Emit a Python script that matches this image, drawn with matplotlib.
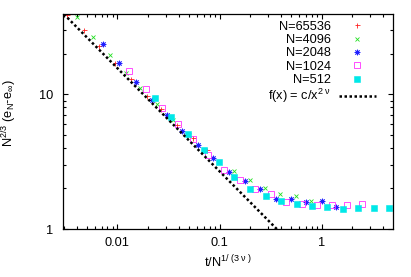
import matplotlib
matplotlib.use("Agg")
import matplotlib.pyplot as plt
import numpy as np
from matplotlib.ticker import FixedLocator, FixedFormatter, LogLocator, NullFormatter

plt.rcParams['font.family'] = ['Liberation Sans', 'DejaVu Sans']
plt.rcParams['mathtext.fontset'] = 'custom'
plt.rcParams['mathtext.rm'] = 'Liberation Sans'
plt.rcParams['mathtext.it'] = 'Liberation Sans'
plt.rcParams['mathtext.sf'] = 'Liberation Sans'

FS = 9.2

# ---- data ----
labels = ["N=65536", "N=4096", "N=2048", "N=1024", "N=512"]

x_65536 = [0.00324, 0.00472, 0.00667, 0.00950, 0.01361, 0.0193, 0.0268, 0.0384, 0.0547, 0.0750]
y_65536 = [38.8, 30.0, 22.8, 17.2, 13.1, 9.71, 7.74, 5.92, 4.71, 3.86]

x_4096 = [0.00401, 0.00582, 0.00849, 0.01208, 0.01667, 0.0246, 0.0353, 0.0498,
          0.0705, 0.0989, 0.1387, 0.199, 0.279, 0.391, 0.557, 0.780]
y_4096 = [37.3, 26.8, 19.6, 14.3, 11.2, 8.47, 6.45, 4.99,
          3.86, 3.16, 2.70, 2.31, 2.02, 1.83, 1.76, 1.61]

x_2048 = [0.00724, 0.01046, 0.01524, 0.0217, 0.0308, 0.0432, 0.0621, 0.0868,
          0.124, 0.177, 0.249, 0.355, 0.498, 0.702, 1.000, 1.39]
y_2048 = [23.5, 17.2, 12.3, 9.12, 7.06, 5.37, 4.24, 3.35,
          2.66, 2.28, 1.97, 1.67, 1.68, 1.58, 1.62, 1.46]

x_1024 = [0.01301, 0.01897, 0.02754, 0.0390, 0.0551, 0.0776, 0.1107, 0.160,
          0.222, 0.317, 0.448, 0.637, 0.893, 1.270, 1.780, 2.50]
y_1024 = [14.9, 10.9, 7.98, 6.02, 4.66, 3.54, 2.74, 2.33,
          1.99, 1.81, 1.58, 1.53, 1.51, 1.52, 1.50, 1.53]

x_512 = [0.0234, 0.0337, 0.0492, 0.0705, 0.0990, 0.140, 0.199, 0.284,
         0.400, 0.569, 0.804, 1.13, 1.60, 2.27, 3.22, 4.55]
y_512 = [9.34, 6.82, 5.07, 3.89, 3.13, 2.42, 1.98, 1.77,
         1.62, 1.53, 1.48, 1.45, 1.41, 1.42, 1.42, 1.42]

# fit f(x) = c / x^(2 nu)
c_fit = 0.46
nu_fit = 0.383

xticks = [0.01, 0.1, 1]
xticklabels = ["0.01", "0.1", "1"]
yticks = [1, 10]
yticklabels = ["1", "10"]

# ---- figure ----
W, H = 411, 277
fig = plt.figure(figsize=(W / 100, H / 100), dpi=100)
L, R, T, B = 63.3, 392.7, 14, 229
ax = fig.add_axes([L / W, (H - B) / H, (R - L) / W, (B - T) / H])

series = [
    (x_65536, y_65536, dict(marker='+', color='#ff2020', ms=3.6, mew=0.6)),
    (x_4096, y_4096, dict(marker='x', color='#20e020', ms=3.4, mew=0.6)),
    (x_2048, y_2048, dict(marker=(8, 2, 0), color='#2020ff', ms=4.0, mew=0.6)),
    (x_1024, y_1024, dict(marker='s', color='#ff30ff', mfc='none', ms=4.6, mew=0.6)),
    (x_512, y_512, dict(marker='s', color='#00e8e8', ms=3.8, mew=0.4)),
]
for (xs, ys, st), lab in zip(series, labels):
    ax.plot(xs, ys, linestyle='none', label=lab, **st)

xf = np.logspace(np.log10(0.003), np.log10(5), 200)
ax.plot(xf, c_fit / xf ** (2 * nu_fit), color='black', lw=1.8,
        linestyle=(0, (1, 1)), label=r'f(x) = c/x$^{2\ ν}$')

ax.set_xscale('log')
ax.set_yscale('log')
ax.set_xlim(0.00296, 4.95)
ax.set_ylim(1, 39.5)

ax.xaxis.set_major_locator(FixedLocator(xticks))
ax.xaxis.set_major_formatter(FixedFormatter(xticklabels))
ax.yaxis.set_major_locator(FixedLocator(yticks))
ax.yaxis.set_major_formatter(FixedFormatter(yticklabels))
ax.xaxis.set_minor_locator(LogLocator(base=10, subs=np.arange(2, 10), numticks=20))
ax.yaxis.set_minor_locator(LogLocator(base=10, subs=np.arange(2, 10), numticks=20))
ax.xaxis.set_minor_formatter(NullFormatter())
ax.yaxis.set_minor_formatter(NullFormatter())

ax.tick_params(which='both', direction='in', top=True, right=True,
               labelsize=FS, width=0.8, color='black')
ax.tick_params(which='major', length=3.5)
ax.tick_params(which='minor', length=2)
ax.tick_params(axis='x', which='major', pad=6)
ax.tick_params(axis='y', which='major', pad=7)
for s in ax.spines.values():
    s.set_linewidth(0.9)
    s.set_color('black')

ax.set_xlabel(r't/N$^{1/\ (3\ ν\ )}$', fontsize=FS, labelpad=3)
ax.set_ylabel(r'N$^{2/3}$ (e$_N$-e$_\infty$)', fontsize=FS)
ax.yaxis.set_label_coords(-0.135, 0.54)

leg = ax.legend(loc='upper right', bbox_to_anchor=(0.949, 0.968),
                markerfirst=False, frameon=False,
                fontsize=FS, handlelength=2.9, handletextpad=0.6,
                labelspacing=0.1, borderaxespad=0.0, borderpad=0.0,
                numpoints=1)

fig.savefig('out.png', dpi=100)
